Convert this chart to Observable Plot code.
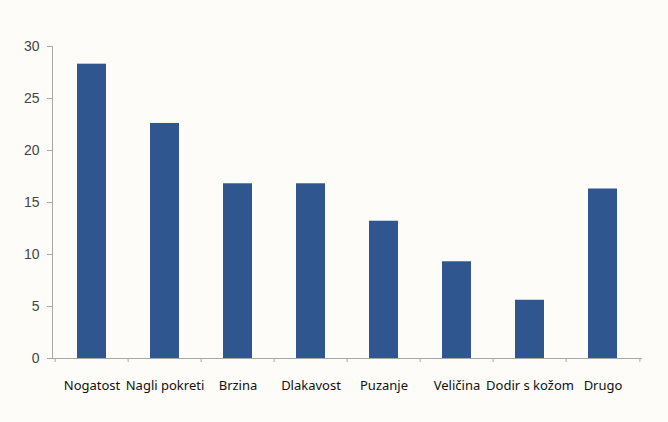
<!DOCTYPE html>
<html>
<head>
<meta charset="utf-8">
<script src="https://cdn.jsdelivr.net/npm/d3@7"></script>
<script src="https://cdn.jsdelivr.net/npm/@observablehq/plot@0.6"></script>
<style>
  html, body { margin: 0; padding: 0; background: #fdfcf8; }
  #chart svg { display: block; background: #fdfcf8; }
</style>
</head>
<body>
<div id="chart"></div>
<script>
const categories = ["Nogatost", "Nagli pokreti", "Brzina", "Dlakavost", "Puzanje", "Veličina", "Dodir s kožom", "Drugo"];
const values = [28.3, 22.6, 16.8, 16.8, 13.2, 9.3, 5.6, 16.3];
const yTicks = [0, 5, 10, 15, 20, 25, 30];

const data = categories.map((c, i) => ({category: c, value: values[i]}));

const W = 668, H = 422;
const mL = 52, mR = 26, mT = 46, mB = 64;
const step = (W - mL - mR) / categories.length;

const chart = Plot.plot({
  width: W,
  height: H,
  marginLeft: mL,
  marginRight: mR,
  marginTop: mT,
  marginBottom: mB,
  style: {background: "#fdfcf8"},
  x: {domain: categories, paddingInner: 0.6, paddingOuter: 0.3, label: null},
  y: {domain: [0, 30], label: null},
  marks: [
    Plot.barY(data, {x: "category", y: "value", fill: "#30568f"}),
    Plot.axisY({ticks: yTicks, tickSize: 5, tickPadding: 8, stroke: "#a8a8a8",
      fontSize: 14, fontFamily: "Liberation Sans, Arial, sans-serif", fill: "#444"}),
    Plot.frame({anchor: "left", stroke: "#a8a8a8"}),
    Plot.ruleY([0], {stroke: "#a8a8a8"}),
    Plot.axisX({tickSize: 0, tickPadding: 22, fontSize: 13,
      fontFamily: "Noto Sans, sans-serif", fill: "#111"}),
    Plot.axisX({tickSize: 4, tickFormat: () => "", stroke: "#a8a8a8", dx: -step / 2}),
    Plot.axisX({ticks: [categories[categories.length - 1]], tickSize: 4, tickFormat: () => "", stroke: "#a8a8a8", dx: step / 2})
  ]
});
document.getElementById("chart").appendChild(chart);
</script>
</body>
</html>
